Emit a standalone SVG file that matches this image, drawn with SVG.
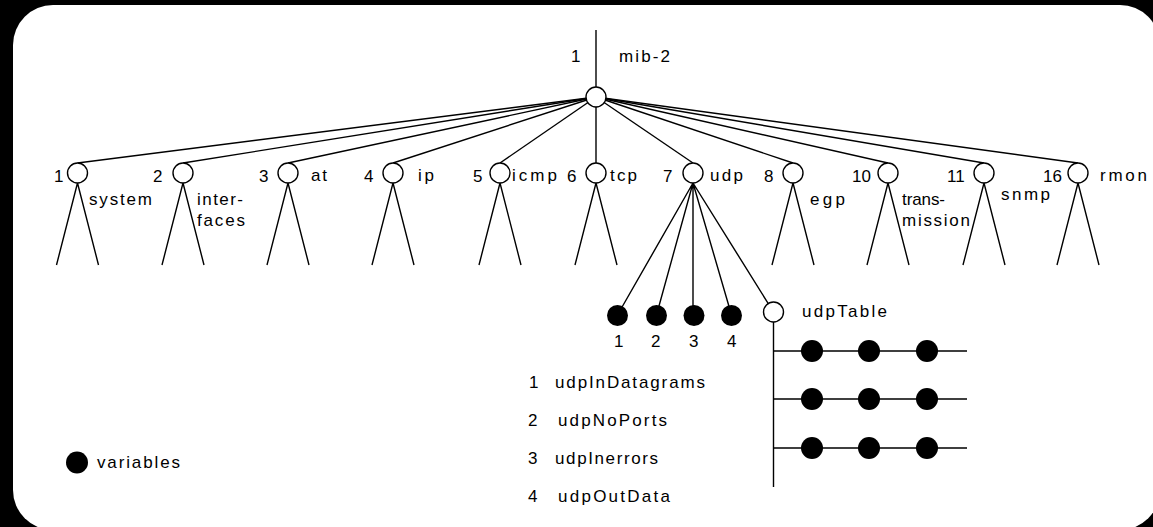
<svg xmlns="http://www.w3.org/2000/svg" width="1153" height="527" viewBox="0 0 1153 527">
<style>
.ln{stroke:#000;stroke-width:1.4;fill:none}
.oc{fill:#fff;stroke:#000;stroke-width:1.4}
.fc{fill:#000;stroke:none}
.t{font-family:"Liberation Sans",Arial,sans-serif;font-size:17px;fill:#000}
</style>
<rect x="0" y="0" width="1153" height="527" fill="#000"/>
<rect x="13" y="5" width="1147" height="525" rx="40" ry="40" fill="#fff"/>
<g id="connectors">
<line class="ln" x1="596" y1="30" x2="596" y2="97"/>
<line class="ln" x1="596" y1="97" x2="77.5" y2="163"/>
<line class="ln" x1="596" y1="97" x2="183" y2="163"/>
<line class="ln" x1="596" y1="97" x2="288" y2="163"/>
<line class="ln" x1="596" y1="97" x2="393" y2="163"/>
<line class="ln" x1="596" y1="97" x2="500" y2="163"/>
<line class="ln" x1="596" y1="97" x2="596" y2="163"/>
<line class="ln" x1="596" y1="97" x2="693" y2="163"/>
<line class="ln" x1="596" y1="97" x2="793" y2="163"/>
<line class="ln" x1="596" y1="97" x2="888" y2="163"/>
<line class="ln" x1="596" y1="97" x2="984" y2="163"/>
<line class="ln" x1="596" y1="97" x2="1078" y2="163"/>
<path class="ln" d="M56.5 265L77.5 183L98.5 265M162 265L183 183L204 265M267 265L288 183L309 265M372 265L393 183L414 265M479 265L500 183L521 265M575 265L596 183L617 265M772 265L793 183L814 265M867 265L888 183L909 265M963 265L984 183L1005 265M1057 265L1078 183L1099 265"/>
<path class="ln" d="M693 183L617.5 315M693 183L656.5 315M693 183L693 315M693 183L731.5 315M693 183L773.5 312"/>
<path class="ln" d="M773.5 322V487M773.5 351H967M773.5 399H967M773.5 448H967"/>
</g>
<g id="mib-2">
<circle class="oc" cx="596" cy="97" r="10"/>
<text class="t" x="571" y="62">1</text>
<text class="t" x="619" y="62" textLength="51" lengthAdjust="spacing">mib-2</text>
</g>
<g id="system">
<circle class="oc" cx="77.5" cy="173" r="10"/>
<text class="t" x="54" y="182">1</text>
<text class="t" x="89" y="205" textLength="63" lengthAdjust="spacing">system</text>
</g>
<g id="interfaces">
<circle class="oc" cx="183" cy="173" r="10"/>
<text class="t" x="153" y="182">2</text>
<text class="t" x="197" y="205" textLength="46" lengthAdjust="spacing">inter-</text>
<text class="t" x="197" y="226" textLength="48" lengthAdjust="spacing">faces</text>
</g>
<g id="at">
<circle class="oc" cx="288" cy="173" r="10"/>
<text class="t" x="259" y="182">3</text>
<text class="t" x="311" y="181" textLength="16" lengthAdjust="spacing">at</text>
</g>
<g id="ip">
<circle class="oc" cx="393" cy="173" r="10"/>
<text class="t" x="364" y="182">4</text>
<text class="t" x="418" y="181" textLength="16" lengthAdjust="spacing">ip</text>
</g>
<g id="icmp">
<circle class="oc" cx="500" cy="173" r="10"/>
<text class="t" x="473" y="182">5</text>
<text class="t" x="512" y="181" textLength="45" lengthAdjust="spacing">icmp</text>
</g>
<g id="tcp">
<circle class="oc" cx="596" cy="173" r="10"/>
<text class="t" x="567" y="182">6</text>
<text class="t" x="610" y="181" textLength="27" lengthAdjust="spacing">tcp</text>
</g>
<g id="udp">
<circle class="oc" cx="693" cy="173" r="10"/>
<text class="t" x="663" y="182">7</text>
<text class="t" x="710" y="181" textLength="33" lengthAdjust="spacing">udp</text>
</g>
<g id="egp">
<circle class="oc" cx="793" cy="173" r="10"/>
<text class="t" x="764" y="182">8</text>
<text class="t" x="810" y="205" textLength="35" lengthAdjust="spacing">egp</text>
</g>
<g id="transmission">
<circle class="oc" cx="888" cy="173" r="10"/>
<text class="t" x="852" y="182">10</text>
<text class="t" x="902" y="205" textLength="43" lengthAdjust="spacing">trans-</text>
<text class="t" x="902" y="226" textLength="68" lengthAdjust="spacing">mission</text>
</g>
<g id="snmp">
<circle class="oc" cx="984" cy="173" r="10"/>
<text class="t" x="947" y="182">11</text>
<text class="t" x="1001" y="200" textLength="49" lengthAdjust="spacing">snmp</text>
</g>
<g id="rmon">
<circle class="oc" cx="1078" cy="173" r="10"/>
<text class="t" x="1043" y="182">16</text>
<text class="t" x="1100" y="181" textLength="47" lengthAdjust="spacing">rmon</text>
</g>
<g id="udp-vars">
<circle class="fc" cx="617.5" cy="315.5" r="10.5"/>
<circle class="fc" cx="656.5" cy="315.5" r="10.5"/>
<circle class="fc" cx="694" cy="315.5" r="10.5"/>
<circle class="fc" cx="731.5" cy="315.5" r="10.5"/>
<text class="t" x="614" y="347">1</text>
<text class="t" x="651" y="347">2</text>
<text class="t" x="689" y="347">3</text>
<text class="t" x="727" y="347">4</text>
</g>
<g id="udpTable">
<circle class="oc" cx="773.5" cy="312" r="10"/>
<text class="t" x="802" y="317" textLength="85" lengthAdjust="spacing">udpTable</text>
<circle class="fc" cx="812" cy="351" r="11"/>
<circle class="fc" cx="869" cy="351" r="11"/>
<circle class="fc" cx="927" cy="351" r="11"/>
<circle class="fc" cx="812" cy="399" r="11"/>
<circle class="fc" cx="869" cy="399" r="11"/>
<circle class="fc" cx="927" cy="399" r="11"/>
<circle class="fc" cx="812" cy="448" r="11"/>
<circle class="fc" cx="869" cy="448" r="11"/>
<circle class="fc" cx="927" cy="448" r="11"/>
</g>
<g id="var-list">
<text class="t" x="529" y="388">1</text>
<text class="t" x="555" y="388" textLength="150" lengthAdjust="spacing">udpInDatagrams</text>
<text class="t" x="528" y="426">2</text>
<text class="t" x="558" y="426" textLength="109" lengthAdjust="spacing">udpNoPorts</text>
<text class="t" x="528" y="464">3</text>
<text class="t" x="555" y="464" textLength="103" lengthAdjust="spacing">udpInerrors</text>
<text class="t" x="528" y="502">4</text>
<text class="t" x="558" y="502" textLength="112" lengthAdjust="spacing">udpOutData</text>
</g>
<g id="legend">
<circle class="fc" cx="77" cy="462.5" r="11"/>
<text class="t" x="97" y="468" textLength="83" lengthAdjust="spacing">variables</text>
</g>
</svg>
